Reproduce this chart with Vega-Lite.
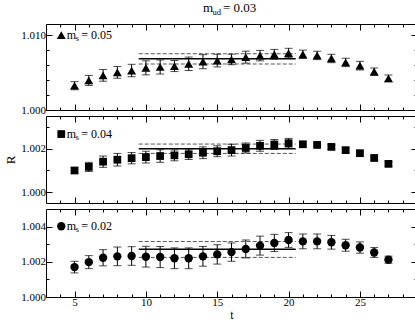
{
  "$schema": "https://vega.github.io/schema/vega-lite/v6.json",
  "padding": {"left": 4, "top": 1, "right": 1, "bottom": 0},
  "background": "white",
  "config": {
    "view": {"stroke": "black", "strokeWidth": 1},
    "font": "Liberation Serif",
    "axis": {"labelFont": "Liberation Serif", "labelFontSize": 11, "labelColor": "black", "tickColor": "black", "tickWidth": 1, "domain": false, "grid": false, "titleFont": "Liberation Serif", "titleFontSize": 13, "titleFontWeight": "normal", "titleColor": "black", "labelOverlap": false, "labelFlush": false}
  },
  "datasets": {
    "d1": [
      {"t": 5, "R": 1.00325, "e": 0.00054}, {"t": 6, "R": 1.00396, "e": 0.00067}, {"t": 7, "R": 1.00463, "e": 0.00078},
      {"t": 8, "R": 1.00503, "e": 0.00078}, {"t": 9, "R": 1.00528, "e": 0.00083}, {"t": 10, "R": 1.00564, "e": 0.00094},
      {"t": 11, "R": 1.00575, "e": 0.00094}, {"t": 12, "R": 1.00588, "e": 0.00074}, {"t": 13, "R": 1.00618, "e": 0.0009},
      {"t": 14, "R": 1.00646, "e": 0.00094}, {"t": 15, "R": 1.00661, "e": 0.00085}, {"t": 16, "R": 1.00676, "e": 0.0007},
      {"t": 17, "R": 1.00707, "e": 0.0008}, {"t": 18, "R": 1.00727, "e": 0.0007}, {"t": 19, "R": 1.00745, "e": 0.00065},
      {"t": 20, "R": 1.00762, "e": 0.00063}, {"t": 21, "R": 1.00745, "e": 0.00056}, {"t": 22, "R": 1.0073, "e": 0.00056},
      {"t": 23, "R": 1.00689, "e": 0.00056}, {"t": 24, "R": 1.00636, "e": 0.00056}, {"t": 25, "R": 1.00593, "e": 0.00058},
      {"t": 26, "R": 1.00512, "e": 0.0005}, {"t": 27, "R": 1.00423, "e": 0.00045}
    ],
    "d2": [
      {"t": 5, "R": 1.000995, "e": 0.00012}, {"t": 6, "R": 1.00116, "e": 0.00021}, {"t": 7, "R": 1.0014, "e": 0.00026},
      {"t": 8, "R": 1.00149, "e": 0.00029}, {"t": 9, "R": 1.00156, "e": 0.00026}, {"t": 10, "R": 1.00161, "e": 0.00027},
      {"t": 11, "R": 1.00166, "e": 0.00029}, {"t": 12, "R": 1.00169, "e": 0.00025}, {"t": 13, "R": 1.00174, "e": 0.00024},
      {"t": 14, "R": 1.00181, "e": 0.00027}, {"t": 15, "R": 1.00188, "e": 0.00025}, {"t": 16, "R": 1.00193, "e": 0.00027},
      {"t": 17, "R": 1.00203, "e": 0.00023}, {"t": 18, "R": 1.00213, "e": 0.00025}, {"t": 19, "R": 1.00219, "e": 0.00023},
      {"t": 20, "R": 1.00225, "e": 0.00022}, {"t": 21, "R": 1.0022, "e": 0.0001}, {"t": 22, "R": 1.00217, "e": 0.0001},
      {"t": 23, "R": 1.00208, "e": 0.0001}, {"t": 24, "R": 1.00193, "e": 0.0001}, {"t": 25, "R": 1.00179, "e": 0.0001},
      {"t": 26, "R": 1.00157, "e": 0.0001}, {"t": 27, "R": 1.0013, "e": 0.0001}
    ],
    "d3": [
      {"t": 5, "R": 1.0017, "e": 0.00033}, {"t": 6, "R": 1.00198, "e": 0.00037}, {"t": 7, "R": 1.00223, "e": 0.00046},
      {"t": 8, "R": 1.00231, "e": 0.00053}, {"t": 9, "R": 1.00233, "e": 0.00053}, {"t": 10, "R": 1.00229, "e": 0.00059},
      {"t": 11, "R": 1.00227, "e": 0.0006}, {"t": 12, "R": 1.0022, "e": 0.00059}, {"t": 13, "R": 1.0022, "e": 0.00059},
      {"t": 14, "R": 1.00231, "e": 0.00056}, {"t": 15, "R": 1.00242, "e": 0.00055}, {"t": 16, "R": 1.00255, "e": 0.00052},
      {"t": 17, "R": 1.00273, "e": 0.00051}, {"t": 18, "R": 1.00292, "e": 0.00054}, {"t": 19, "R": 1.00307, "e": 0.00049},
      {"t": 20, "R": 1.00324, "e": 0.00042}, {"t": 21, "R": 1.00316, "e": 0.00042}, {"t": 22, "R": 1.00316, "e": 0.00042},
      {"t": 23, "R": 1.00311, "e": 0.00039}, {"t": 24, "R": 1.00294, "e": 0.00034}, {"t": 25, "R": 1.00281, "e": 0.00032},
      {"t": 26, "R": 1.00253, "e": 0.00028}, {"t": 27, "R": 1.00212, "e": 0.0002}
    ],
    "f1": [
      {"t": 9.5, "t2": 20.5, "R": 1.00684, "kind": "fit"},
      {"t": 9.5, "t2": 20.5, "R": 1.00752, "kind": "upper"},
      {"t": 9.5, "t2": 20.5, "R": 1.00615, "kind": "lower"}
    ],
    "f2": [
      {"t": 9.5, "t2": 20.5, "R": 1.00199, "kind": "fit"},
      {"t": 9.5, "t2": 20.5, "R": 1.00221, "kind": "upper"},
      {"t": 9.5, "t2": 20.5, "R": 1.00178, "kind": "lower"}
    ],
    "f3": [
      {"t": 9.5, "t2": 20.5, "R": 1.00272, "kind": "fit"},
      {"t": 9.5, "t2": 20.5, "R": 1.00315, "kind": "upper"},
      {"t": 9.5, "t2": 20.5, "R": 1.00225, "kind": "lower"}
    ],
    "l1": [{"t": 4.07, "R": 1.0100, "m": "m", "sub": "s", "rest": "= 0.05"}],
    "l2": [{"t": 4.07, "R": 1.00267, "m": "m", "sub": "s", "rest": "= 0.04"}],
    "l3": [{"t": 4.07, "R": 1.00402, "m": "m", "sub": "s", "rest": "= 0.02"}],
    "tt": [{"t": 14.0, "R": 1.0115, "m": "m", "sub": "ud", "rest": "= 0.03"}]
  },
  "vconcat": [
    {
      "width": 371, "height": 86,
      "layer": [
        {"data": {"name": "f1"}, "transform": [{"filter": "datum.kind == 'fit'"}],
         "mark": {"type": "rule", "color": "black", "strokeWidth": 1.5},
         "encoding": {
           "x": {"field": "t", "type": "quantitative", "scale": {"domain": [3, 29], "nice": false, "zero": false},
                 "axis": {"orient": "bottom", "values": [4,5,6,7,8,9,10,11,12,13,14,15,16,17,18,19,20,21,22,23,24,25,26,27,28], "tickSize": {"condition": {"test": "datum.value % 5 === 0", "value": -6}, "value": -3}, "labels": false, "title": null}},
           "x2": {"field": "t2"},
           "y": {"field": "R", "type": "quantitative", "scale": {"domain": [1.0, 1.0115], "nice": false, "zero": false},
                 "axis": {"orient": "left", "values": [1.0, 1.002, 1.004, 1.006, 1.008, 1.01], "tickSize": {"condition": {"test": "abs(datum.value*100 - round(datum.value*100)) < 1e-6", "value": -6}, "value": -3}, "labelExpr": "abs(datum.value*100 - round(datum.value*100)) < 1e-6 ? format(datum.value, '.3f') : ''", "labelPadding": 6.5, "title": null}}
         }},
        {"data": {"name": "f1"}, "transform": [{"filter": "datum.kind != 'fit'"}],
         "mark": {"type": "rule", "color": "#555555", "strokeWidth": 1, "strokeDash": [4, 2]},
         "encoding": {
           "x": {"field": "t", "type": "quantitative", "scale": {"domain": [3, 29], "nice": false, "zero": false},
                 "axis": {"orient": "top", "values": [4,5,6,7,8,9,10,11,12,13,14,15,16,17,18,19,20,21,22,23,24,25,26,27,28], "tickSize": {"condition": {"test": "datum.value % 5 === 0", "value": -6}, "value": -3}, "labels": false, "title": null}},
           "x2": {"field": "t2"},
           "y": {"field": "R", "type": "quantitative", "scale": {"domain": [1.0, 1.0115], "nice": false, "zero": false},
                 "axis": {"orient": "right", "values": [1.0, 1.002, 1.004, 1.006, 1.008, 1.01], "tickSize": {"condition": {"test": "abs(datum.value*100 - round(datum.value*100)) < 1e-6", "value": -6}, "value": -3}, "labels": false, "title": null}}
         }},
        {"data": {"name": "d1"},
         "mark": {"type": "errorbar", "color": "black", "thickness": 1, "ticks": {"size": 8, "color": "black"}},
         "encoding": {
           "x": {"field": "t", "type": "quantitative", "scale": {"domain": [3, 29], "nice": false, "zero": false}, "axis": null},
           "y": {"field": "R", "type": "quantitative", "scale": {"domain": [1.0, 1.0115], "nice": false, "zero": false}, "axis": null},
           "yError": {"field": "e"}
         }},
        {"data": {"name": "d1"},
         "mark": {"type": "point", "shape": "triangle-up", "filled": true, "color": "black", "opacity": 1, "size": 80},
         "encoding": {
           "x": {"field": "t", "type": "quantitative", "scale": {"domain": [3, 29], "nice": false, "zero": false}, "axis": null},
           "y": {"field": "R", "type": "quantitative", "scale": {"domain": [1.0, 1.0115], "nice": false, "zero": false}, "axis": null}
         }},
        {"data": {"name": "l1"},
         "mark": {"type": "point", "shape": "triangle-up", "filled": true, "color": "black", "opacity": 1, "size": 80},
         "encoding": {"x": {"field": "t", "type": "quantitative", "axis": null}, "y": {"field": "R", "type": "quantitative", "axis": null}}},
        {"data": {"name": "l1"},
         "mark": {"type": "text", "align": "left", "baseline": "middle", "dx": 5.5, "fontSize": 12, "font": "Liberation Serif", "color": "black"},
         "encoding": {"x": {"field": "t", "type": "quantitative", "axis": null}, "y": {"field": "R", "type": "quantitative", "axis": null}, "text": {"field": "m"}}},
        {"data": {"name": "l1"},
         "mark": {"type": "text", "align": "left", "baseline": "middle", "dx": 14.5, "dy": 4, "fontSize": 8, "font": "Liberation Serif", "color": "black"},
         "encoding": {"x": {"field": "t", "type": "quantitative", "axis": null}, "y": {"field": "R", "type": "quantitative", "axis": null}, "text": {"field": "sub"}}},
        {"data": {"name": "l1"},
         "mark": {"type": "text", "align": "left", "baseline": "middle", "dx": 20, "fontSize": 12, "font": "Liberation Serif", "color": "black"},
         "encoding": {"x": {"field": "t", "type": "quantitative", "axis": null}, "y": {"field": "R", "type": "quantitative", "axis": null}, "text": {"field": "rest"}}},
        {"data": {"name": "tt"},
         "mark": {"type": "text", "align": "left", "baseline": "alphabetic", "dy": -12.5, "fontSize": 13, "font": "Liberation Serif", "color": "black"},
         "encoding": {"x": {"field": "t", "type": "quantitative", "axis": null}, "y": {"field": "R", "type": "quantitative", "axis": null}, "text": {"field": "m"}}},
        {"data": {"name": "tt"},
         "mark": {"type": "text", "align": "left", "baseline": "alphabetic", "dx": 9.5, "dy": -9, "fontSize": 8.5, "font": "Liberation Serif", "color": "black"},
         "encoding": {"x": {"field": "t", "type": "quantitative", "axis": null}, "y": {"field": "R", "type": "quantitative", "axis": null}, "text": {"field": "sub"}}},
        {"data": {"name": "tt"},
         "mark": {"type": "text", "align": "left", "baseline": "alphabetic", "dx": 20, "dy": -12.5, "fontSize": 13, "font": "Liberation Serif", "color": "black"},
         "encoding": {"x": {"field": "t", "type": "quantitative", "axis": null}, "y": {"field": "R", "type": "quantitative", "axis": null}, "text": {"field": "rest"}}}
      ]
    },
    {
      "width": 371, "height": 87,
      "layer": [
        {"data": {"name": "f2"}, "transform": [{"filter": "datum.kind == 'fit'"}],
         "mark": {"type": "rule", "color": "black", "strokeWidth": 1.5},
         "encoding": {
           "x": {"field": "t", "type": "quantitative", "scale": {"domain": [3, 29], "nice": false, "zero": false},
                 "axis": {"orient": "bottom", "values": [4,5,6,7,8,9,10,11,12,13,14,15,16,17,18,19,20,21,22,23,24,25,26,27,28], "tickSize": {"condition": {"test": "datum.value % 5 === 0", "value": -6}, "value": -3}, "labels": false, "title": null}},
           "x2": {"field": "t2"},
           "y": {"field": "R", "type": "quantitative", "scale": {"domain": [0.9995, 1.0035], "nice": false, "zero": false},
                 "axis": {"orient": "left", "values": [1.0, 1.001, 1.002, 1.003], "tickSize": {"condition": {"test": "abs(datum.value*500 - round(datum.value*500)) < 1e-6", "value": -6}, "value": -3}, "labelExpr": "abs(datum.value*500 - round(datum.value*500)) < 1e-6 ? format(datum.value, '.3f') : ''", "labelPadding": 6.5, "title": "R", "titlePadding": 3}}
         }},
        {"data": {"name": "f2"}, "transform": [{"filter": "datum.kind != 'fit'"}],
         "mark": {"type": "rule", "color": "#555555", "strokeWidth": 1, "strokeDash": [4, 2]},
         "encoding": {
           "x": {"field": "t", "type": "quantitative", "scale": {"domain": [3, 29], "nice": false, "zero": false},
                 "axis": {"orient": "top", "values": [4,5,6,7,8,9,10,11,12,13,14,15,16,17,18,19,20,21,22,23,24,25,26,27,28], "tickSize": {"condition": {"test": "datum.value % 5 === 0", "value": -6}, "value": -3}, "labels": false, "title": null}},
           "x2": {"field": "t2"},
           "y": {"field": "R", "type": "quantitative", "scale": {"domain": [0.9995, 1.0035], "nice": false, "zero": false},
                 "axis": {"orient": "right", "values": [1.0, 1.001, 1.002, 1.003], "tickSize": {"condition": {"test": "abs(datum.value*500 - round(datum.value*500)) < 1e-6", "value": -6}, "value": -3}, "labels": false, "title": null}}
         }},
        {"data": {"name": "d2"},
         "mark": {"type": "errorbar", "color": "black", "thickness": 1, "ticks": {"size": 8, "color": "black"}},
         "encoding": {
           "x": {"field": "t", "type": "quantitative", "scale": {"domain": [3, 29], "nice": false, "zero": false}, "axis": null},
           "y": {"field": "R", "type": "quantitative", "scale": {"domain": [0.9995, 1.0035], "nice": false, "zero": false}, "axis": null},
           "yError": {"field": "e"}
         }},
        {"data": {"name": "d2"},
         "mark": {"type": "point", "shape": "square", "filled": true, "color": "black", "opacity": 1, "size": 60},
         "encoding": {
           "x": {"field": "t", "type": "quantitative", "scale": {"domain": [3, 29], "nice": false, "zero": false}, "axis": null},
           "y": {"field": "R", "type": "quantitative", "scale": {"domain": [0.9995, 1.0035], "nice": false, "zero": false}, "axis": null}
         }},
        {"data": {"name": "l2"},
         "mark": {"type": "point", "shape": "square", "filled": true, "color": "black", "opacity": 1, "size": 60},
         "encoding": {"x": {"field": "t", "type": "quantitative", "axis": null}, "y": {"field": "R", "type": "quantitative", "axis": null}}},
        {"data": {"name": "l2"},
         "mark": {"type": "text", "align": "left", "baseline": "middle", "dx": 5.5, "fontSize": 12, "font": "Liberation Serif", "color": "black"},
         "encoding": {"x": {"field": "t", "type": "quantitative", "axis": null}, "y": {"field": "R", "type": "quantitative", "axis": null}, "text": {"field": "m"}}},
        {"data": {"name": "l2"},
         "mark": {"type": "text", "align": "left", "baseline": "middle", "dx": 14.5, "dy": 4, "fontSize": 8, "font": "Liberation Serif", "color": "black"},
         "encoding": {"x": {"field": "t", "type": "quantitative", "axis": null}, "y": {"field": "R", "type": "quantitative", "axis": null}, "text": {"field": "sub"}}},
        {"data": {"name": "l2"},
         "mark": {"type": "text", "align": "left", "baseline": "middle", "dx": 20, "fontSize": 12, "font": "Liberation Serif", "color": "black"},
         "encoding": {"x": {"field": "t", "type": "quantitative", "axis": null}, "y": {"field": "R", "type": "quantitative", "axis": null}, "text": {"field": "rest"}}}
      ]
    },
    {
      "width": 371, "height": 88,
      "layer": [
        {"data": {"name": "f3"}, "transform": [{"filter": "datum.kind == 'fit'"}],
         "mark": {"type": "rule", "color": "black", "strokeWidth": 1.5},
         "encoding": {
           "x": {"field": "t", "type": "quantitative", "scale": {"domain": [3, 29], "nice": false, "zero": false},
                 "axis": {"orient": "bottom", "values": [4,5,6,7,8,9,10,11,12,13,14,15,16,17,18,19,20,21,22,23,24,25,26,27,28], "tickSize": {"condition": {"test": "datum.value % 5 === 0", "value": -6}, "value": -3}, "labelExpr": "datum.value % 5 === 0 ? format(datum.value, 'd') : ''", "labelPadding": 5, "title": "t", "titleFontSize": 12, "titlePadding": -1}},
           "x2": {"field": "t2"},
           "y": {"field": "R", "type": "quantitative", "scale": {"domain": [1.0, 1.005], "nice": false, "zero": false},
                 "axis": {"orient": "left", "values": [1.0, 1.001, 1.002, 1.003, 1.004], "tickSize": {"condition": {"test": "abs(datum.value*500 - round(datum.value*500)) < 1e-6", "value": -6}, "value": -3}, "labelExpr": "abs(datum.value*500 - round(datum.value*500)) < 1e-6 ? format(datum.value, '.3f') : ''", "labelPadding": 6.5, "title": null}}
         }},
        {"data": {"name": "f3"}, "transform": [{"filter": "datum.kind != 'fit'"}],
         "mark": {"type": "rule", "color": "#555555", "strokeWidth": 1, "strokeDash": [4, 2]},
         "encoding": {
           "x": {"field": "t", "type": "quantitative", "scale": {"domain": [3, 29], "nice": false, "zero": false},
                 "axis": {"orient": "top", "values": [4,5,6,7,8,9,10,11,12,13,14,15,16,17,18,19,20,21,22,23,24,25,26,27,28], "tickSize": {"condition": {"test": "datum.value % 5 === 0", "value": -6}, "value": -3}, "labels": false, "title": null}},
           "x2": {"field": "t2"},
           "y": {"field": "R", "type": "quantitative", "scale": {"domain": [1.0, 1.005], "nice": false, "zero": false},
                 "axis": {"orient": "right", "values": [1.0, 1.001, 1.002, 1.003, 1.004], "tickSize": {"condition": {"test": "abs(datum.value*500 - round(datum.value*500)) < 1e-6", "value": -6}, "value": -3}, "labels": false, "title": null}}
         }},
        {"data": {"name": "d3"},
         "mark": {"type": "errorbar", "color": "black", "thickness": 1, "ticks": {"size": 8, "color": "black"}},
         "encoding": {
           "x": {"field": "t", "type": "quantitative", "scale": {"domain": [3, 29], "nice": false, "zero": false}, "axis": null},
           "y": {"field": "R", "type": "quantitative", "scale": {"domain": [1.0, 1.005], "nice": false, "zero": false}, "axis": null},
           "yError": {"field": "e"}
         }},
        {"data": {"name": "d3"},
         "mark": {"type": "point", "shape": "circle", "filled": true, "color": "black", "opacity": 1, "size": 70},
         "encoding": {
           "x": {"field": "t", "type": "quantitative", "scale": {"domain": [3, 29], "nice": false, "zero": false}, "axis": null},
           "y": {"field": "R", "type": "quantitative", "scale": {"domain": [1.0, 1.005], "nice": false, "zero": false}, "axis": null}
         }},
        {"data": {"name": "l3"},
         "mark": {"type": "point", "shape": "circle", "filled": true, "color": "black", "opacity": 1, "size": 70},
         "encoding": {"x": {"field": "t", "type": "quantitative", "axis": null}, "y": {"field": "R", "type": "quantitative", "axis": null}}},
        {"data": {"name": "l3"},
         "mark": {"type": "text", "align": "left", "baseline": "middle", "dx": 5.5, "fontSize": 12, "font": "Liberation Serif", "color": "black"},
         "encoding": {"x": {"field": "t", "type": "quantitative", "axis": null}, "y": {"field": "R", "type": "quantitative", "axis": null}, "text": {"field": "m"}}},
        {"data": {"name": "l3"},
         "mark": {"type": "text", "align": "left", "baseline": "middle", "dx": 14.5, "dy": 4, "fontSize": 8, "font": "Liberation Serif", "color": "black"},
         "encoding": {"x": {"field": "t", "type": "quantitative", "axis": null}, "y": {"field": "R", "type": "quantitative", "axis": null}, "text": {"field": "sub"}}},
        {"data": {"name": "l3"},
         "mark": {"type": "text", "align": "left", "baseline": "middle", "dx": 20, "fontSize": 12, "font": "Liberation Serif", "color": "black"},
         "encoding": {"x": {"field": "t", "type": "quantitative", "axis": null}, "y": {"field": "R", "type": "quantitative", "axis": null}, "text": {"field": "rest"}}}
      ]
    }
  ],
  "spacing": 6,
  "bounds": "flush"
}
